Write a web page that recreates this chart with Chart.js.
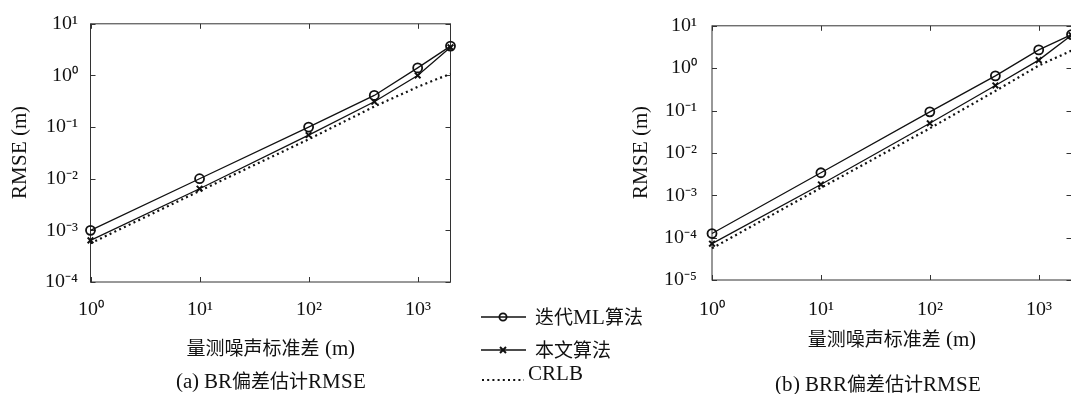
<!DOCTYPE html>
<html>
<head>
<meta charset="utf-8">
<script src="https://cdn.jsdelivr.net/npm/chart.js@4.4.1/dist/chart.umd.min.js"></script>
<style>
  @font-face {
    font-family: 'CMish';
    src: local('Liberation Serif'), local('LiberationSerif'), local('Liberation Serif Regular');
    size-adjust: 112%;
  }
  html, body { margin:0; padding:0; width:1071px; height:394px; overflow:hidden; background:#fff; }
  .wrap { position:absolute; }
  .cap, .leg { position:absolute; font-family:'CMish',"Liberation Serif","Noto Sans CJK SC",serif; font-size:19px; color:#111; white-space:nowrap; line-height:20px; }
  .leg svg { position:absolute; }
</style>
</head>
<body>
<div class="wrap" style="left:0;top:0;width:470px;height:394px;"><canvas id="c1"></canvas></div>
<div class="wrap" style="left:620px;top:0;width:460px;height:394px;"><canvas id="c2"></canvas></div>

<div class="cap" id="capA" style="left:271px;top:371px;transform:translateX(-50%);">(a) BR偏差估计RMSE</div>
<div class="cap" id="capB" style="left:878px;top:374px;transform:translateX(-50%);">(b) BRR偏差估计RMSE</div>

<div class="leg" style="left:480px;top:307px;">
  <svg width="50" height="20" style="left:0;top:0;"><line x1="1" y1="10" x2="46" y2="10" stroke="#111" stroke-width="1.3"/><circle cx="23" cy="10" r="3.6" fill="none" stroke="#111" stroke-width="1.8"/></svg>
  <span style="position:absolute;left:55px;top:0;">迭代ML算法</span>
</div>
<div class="leg" style="left:480px;top:340px;">
  <svg width="50" height="20" style="left:0;top:0;"><line x1="1" y1="10" x2="46" y2="10" stroke="#111" stroke-width="1.3"/><line x1="20" y1="7" x2="26" y2="13" stroke="#111" stroke-width="2"/><line x1="26" y1="7" x2="20" y2="13" stroke="#111" stroke-width="2"/></svg>
  <span style="position:absolute;left:55px;top:0;">本文算法</span>
</div>
<div class="leg" style="left:480px;top:363px;">
  <svg width="50" height="22" style="left:0;top:0;"><line x1="2" y1="17" x2="44" y2="17" stroke="#111" stroke-width="2" stroke-dasharray="2,3.2"/></svg>
  <span style="position:absolute;left:48px;top:0;">CRLB</span>
</div>

<script>
// ---------------- data ----------------
const noiseStd = [1, 10, 100, 400, 1000, 2000];
const seriesNames = ['迭代ML算法', '本文算法', 'CRLB'];

// (a) BR bias estimation RMSE
const brIterML = [1.0e-3, 1.0e-2, 0.10, 0.41, 1.4, 3.7];
const brProposed = [6.4e-4, 6.4e-3, 0.07, 0.31, 1.0, 3.5];
const brCRLB = [5.6e-4, 5.8e-3, 0.058, 0.25, 0.6, 1.08];

// (b) BRR bias estimation RMSE
const brrIterML = [1.25e-4, 3.4e-3, 0.093, 0.66, 2.7, 6.2];
const brrProposed = [7.2e-5, 1.8e-3, 0.05, 0.39, 1.55, 6.0];
const brrCRLB = [5.6e-5, 1.5e-3, 0.038, 0.29, 1.15, 2.6];

const xTitle = '量测噪声标准差 (m)';
const yTitle = 'RMSE (m)';

// ---------------- helpers ----------------
const SUP = {'0':'⁰','1':'¹','2':'²','3':'³','4':'⁴','5':'⁵','6':'⁶','7':'⁷','8':'⁸','9':'⁹','-':'⁻'};
function powLabel(v) {
  const e = Math.round(Math.log10(v));
  return '10' + String(e).split('').map(c => SUP[c]).join('');
}
function onlyDecades(axis) {
  axis.ticks = axis.ticks.filter(t => {
    const l = Math.log10(t.value);
    return Math.abs(l - Math.round(l)) < 1e-6;
  });
}
const serif = "'CMish','Liberation Serif','Noto Sans CJK SC',serif";
const INK = '#111';

const framePlugin = {
  id: 'frame',
  beforeDatasetsDraw(chart) {
    const {ctx, chartArea: a, scales} = chart;
    const x = scales.x, y = scales.y;
    ctx.save();
    ctx.strokeStyle = '#333';
    ctx.lineWidth = 1;
    ctx.strokeRect(a.left, a.top, a.right - a.left, a.bottom - a.top);
    ctx.beginPath();
    x.ticks.forEach(t => {
      const p = Math.round(x.getPixelForValue(t.value)) + 0.5;
      ctx.moveTo(p, a.bottom); ctx.lineTo(p, a.bottom - 5);
      ctx.moveTo(p, a.top); ctx.lineTo(p, a.top + 5);
    });
    y.ticks.forEach(t => {
      const p = Math.round(y.getPixelForValue(t.value)) + 0.5;
      ctx.moveTo(a.left, p); ctx.lineTo(a.left + 5, p);
      ctx.moveTo(a.right, p); ctx.lineTo(a.right - 5, p);
    });
    ctx.stroke();
    ctx.restore();
  }
};

function makeChart(id, vals, cfg) {
  const pts = arr => arr.map((v, i) => ({x: noiseStd[i], y: v}));
  return new Chart(document.getElementById(id), {
    type: 'line',
    data: {
      datasets: [
        {label: seriesNames[0], data: pts(vals[0]), borderColor: INK, borderWidth: 1.3,
         pointStyle: 'circle', pointRadius: 4.5, pointBorderWidth: 1.8,
         pointBackgroundColor: 'rgba(0,0,0,0)', pointBorderColor: INK, clip: false, tension: 0},
        {label: seriesNames[1], data: pts(vals[1]), borderColor: INK, borderWidth: 1.3,
         pointStyle: 'crossRot', pointRadius: 4, pointBorderWidth: 2,
         pointBorderColor: INK, clip: false, tension: 0},
        {label: seriesNames[2], data: pts(vals[2]), borderColor: INK, borderWidth: 2.2,
         borderDash: [2, 3.3], pointRadius: 0, clip: false, tension: 0}
      ]
    },
    options: {
      responsive: true,
      maintainAspectRatio: false,
      animation: false,
      events: [],
      layout: {padding: {top: cfg.top, right: cfg.right, left: 0, bottom: 0}},
      plugins: {legend: {display: false}, tooltip: {enabled: false}, title: {display: false}},
      scales: {
        x: {
          type: 'logarithmic', min: 1, max: 2000,
          grid: {display: false, drawTicks: false},
          border: {display: false},
          afterBuildTicks: onlyDecades,
          afterFit: s => { s.height = cfg.xh; },
          ticks: {callback: v => powLabel(v), autoSkip: false, maxRotation: 0, padding: cfg.xpad,
                  color: INK, font: {family: serif, size: 18}},
          title: {display: true, text: xTitle, color: INK, font: {family: serif, size: 19},
                  padding: {top: 0, bottom: cfg.xtb}}
        },
        y: {
          type: 'logarithmic', min: cfg.ymin, max: 10,
          grid: {display: false, drawTicks: false},
          border: {display: false},
          afterBuildTicks: onlyDecades,
          afterFit: s => { s.width = cfg.yw; },
          ticks: {callback: v => powLabel(v), autoSkip: false, padding: cfg.ypad,
                  color: INK, font: {family: serif, size: 18}},
          title: {display: true, text: yTitle, color: INK, font: {family: serif, size: 19},
                  padding: {top: cfg.ytp, bottom: 0}}
        }
      }
    },
    plugins: [framePlugin]
  });
}

const charts = [
  makeChart('c1', [brIterML, brProposed, brCRLB],
    {top: 20, right: 19.5, xh: 112, yw: 90.5, ymin: 1e-4, xpad: 17, xtb: 33, ypad: 13, ytp: 9}),
  makeChart('c2', [brrIterML, brrProposed, brrCRLB],
    {top: 23, right: 8.5, xh: 114, yw: 92, ymin: 1e-5, xpad: 19, xtb: 42, ypad: 15, ytp: 10})
];
if (document.fonts && document.fonts.load) {
  Promise.all([
    document.fonts.load("19px 'CMish'", '10RMSE'),
    document.fonts.load("19px 'Noto Sans CJK SC'", '量测')
  ]).then(() => charts.forEach(c => c.update()), () => {});
}
</script>
</body>
</html>
